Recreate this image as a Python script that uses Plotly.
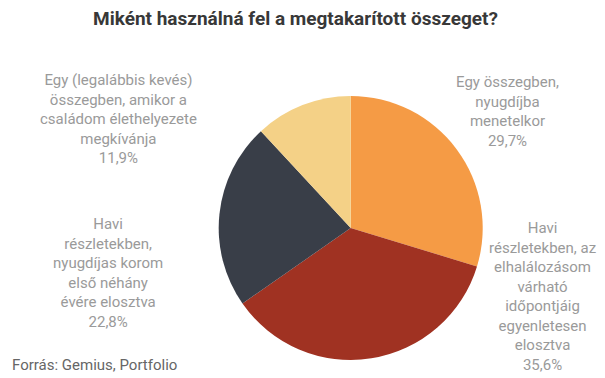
import plotly.graph_objects as go

title = "Miként használná fel a megtakarított összeget?"
source = "Forrás: Gemius, Portfolio"
categories = [
    "Egy összegben,<br>nyugdíjba<br>menetelkor",
    "Havi<br>részletekben, az<br>elhalálozásom<br>várható<br>időpontjáig<br>egyenletesen<br>elosztva",
    "Havi<br>részletekben,<br>nyugdíjas korom<br>első néhány<br>évére elosztva",
    "Egy (legalábbis kevés)<br>összegben, amikor a<br>családom élethelyezete<br>megkívánja",
]
values = [29.7, 35.6, 22.8, 11.9]
colors = ["#F59B45", "#A03222", "#393E48", "#F4D187"]

W, H = 605, 378
cx, cy, r = 350.7, 228, 132

fig = go.Figure(go.Pie(
    labels=[c.replace("<br>", " ") for c in categories],
    values=values,
    sort=False,
    direction="clockwise",
    rotation=0,
    marker=dict(colors=colors, line=dict(width=0)),
    textinfo="none",
    hoverinfo="label+percent",
    domain=dict(x=[(cx - r) / W, (cx + r) / W], y=[1 - (cy + r) / H, 1 - (cy - r) / H]),
    showlegend=False,
))

label_pos = [(507, 111), (542, 296), (108, 273), (118, 119)]
annotations = []
for cat, v, (lx, ly) in zip(categories, values, label_pos):
    annotations.append(dict(
        x=lx / W, y=1 - ly / H, xref="paper", yref="paper",
        text=cat + "<br>" + f"{v:.1f}".replace(".", ",") + "%",
        showarrow=False, xanchor="center", yanchor="middle", align="center",
        font=dict(family="Roboto", size=15, color="#9a9a9a"),
    ))
annotations.append(dict(
    x=10 / W, y=1 - 365 / H, xref="paper", yref="paper", text=source,
    showarrow=False, xanchor="left", yanchor="middle",
    font=dict(family="Roboto", size=15, color="#666666"),
))
annotations.append(dict(
    x=295 / W, y=1 - 19 / H, xref="paper", yref="paper", text="<b>" + title + "</b>",
    showarrow=False, xanchor="center", yanchor="middle",
    font=dict(family="Roboto", size=19, color="#383838"),
))

fig.update_layout(
    width=W, height=H, margin=dict(l=0, r=0, t=0, b=0),
    paper_bgcolor="white", plot_bgcolor="white",
    annotations=annotations,
)
fig.write_html("out.html", config={"displayModeBar": False})

with open("out.html", encoding="utf-8") as f:
    html = f.read()
html = html.replace("<body>", '<body style="margin:0;padding:0;overflow:hidden">', 1)
with open("out.html", "w", encoding="utf-8") as f:
    f.write(html)
